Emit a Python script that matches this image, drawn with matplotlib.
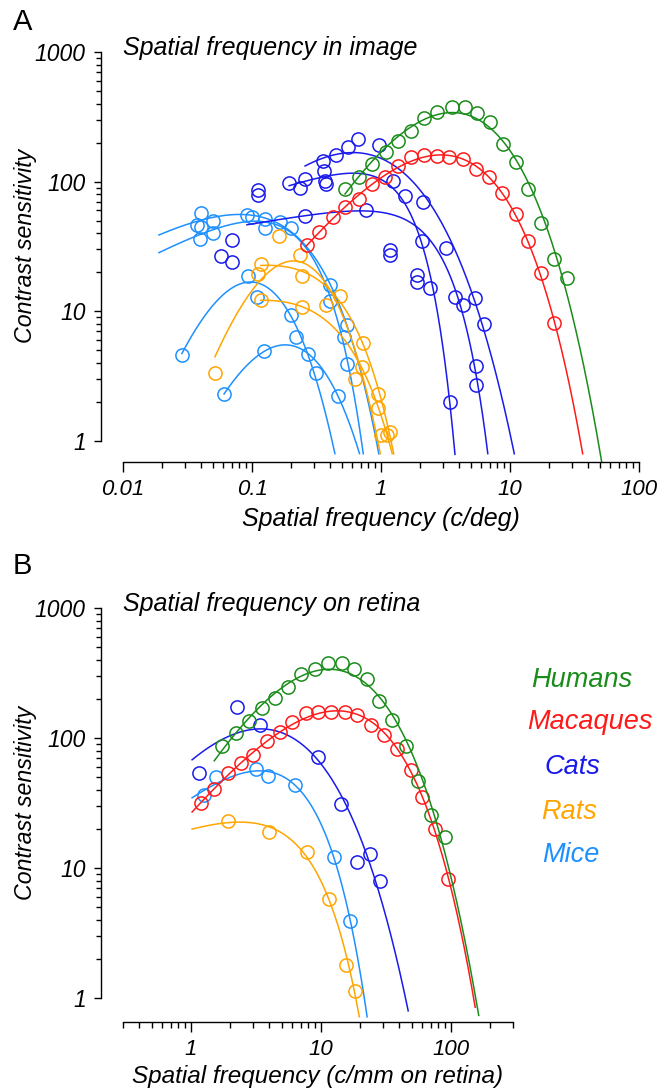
import matplotlib
matplotlib.use("Agg")
import matplotlib.pyplot as plt
import numpy as np

plt.rcParams["font.family"] = ["Liberation Sans", "DejaVu Sans"]

W, H = 661, 1090

GREEN = "#1a8c1a"
RED = "#ff1a1a"
BLUE = "#1a1aeb"
ORANGE = "#ffa500"
SKY = "#1e90ff"

# ---- panel A: spatial frequency in image (c/deg) ----
human_a_f = [0.526, 0.674, 0.851, 1.09, 1.36, 1.71, 2.15, 2.72, 3.55, 4.48, 5.55, 7.00, 8.83, 11.1, 13.8, 17.4, 21.9, 27.7]
human_a_s = [88, 108, 137, 169, 206, 245, 309, 344, 376, 376, 338, 288, 195, 142, 88, 48, 25.3, 18.1]

macaque_a_f = [0.267, 0.330, 0.424, 0.526, 0.674, 0.851, 1.07, 1.36, 1.71, 2.15, 2.72, 3.37, 4.32, 5.45, 6.87, 8.67, 11.1, 13.8, 17.4, 21.9]
macaque_a_s = [32.5, 40.9, 53.3, 63.7, 73.4, 95.9, 108, 132, 155, 160, 157, 155, 149, 125, 108, 81.7, 56.2, 34.8, 19.7, 8.1]

cat1_a_f = [0.111, 0.111, 0.194, 0.235, 0.258, 0.368, 0.375, 1.24, 1.53, 2.08, 2.40, 3.43]
cat1_a_s = [86.1, 78.8, 97.5, 89.3, 105, 101, 95.9, 101, 77.4, 34.8, 15.1, 2.0]
cat2_a_f = [0.258, 0.766, 3.75, 4.32, 5.45, 5.45]
cat2_a_s = [54.3, 60.4, 12.9, 11.2, 3.79, 2.70]
cat3_a_f = [0.355, 0.361, 0.448, 0.555, 0.664, 0.964, 2.12, 3.19, 5.35, 6.28]
cat3_a_s = [144, 121, 160, 185, 213, 192, 69.6, 30.8, 12.7, 7.98]
cat_extra_a_f = [0.070, 0.0575, 0.070, 1.17, 1.17, 1.90, 1.90]
cat_extra_a_s = [35.5, 26.7, 24.0, 29.7, 27.2, 19.1, 16.8]

rat1_a_f = [0.0516, 0.111, 0.162, 0.235, 0.375, 0.628, 1.0]
rat1_a_s = [3.35, 19.4, 38.1, 27.2, 11.2, 3.01, 1.11]
rat2_a_f = [0.117, 0.244, 0.481, 0.724, 0.948, 1.17]
rat2_a_s = [23.2, 18.7, 13.1, 5.70, 2.30, 1.17]
rat3_a_f = [0.117, 0.244, 0.711, 0.948, 1.12]
rat3_a_s = [12.2, 10.8, 3.72, 1.80, 1.11]

mouse1_a_f = [0.0375, 0.0403, 0.0499, 0.0914, 0.126, 0.165, 0.403, 0.545]
mouse1_a_s = [46.3, 57.3, 49.7, 55.3, 51.5, 48.8, 15.9, 7.84]
mouse2_a_f = [0.0395, 0.0403, 0.0499, 0.100, 0.126, 0.200, 0.403, 0.516, 0.545]
mouse2_a_s = [36.1, 44.7, 40.1, 53.3, 43.9, 43.9, 12.0, 6.34, 3.92]
mouse3_a_f = [0.0286, 0.093, 0.200, 0.219, 0.313]
mouse3_a_s = [4.60, 18.7, 9.36, 6.34, 3.35]
mouse4_a_f = [0.0607, 0.124, 0.272, 0.465]
mouse4_a_s = [2.30, 4.94, 4.69, 2.22]
mouse_extra_a_f = [0.109]
mouse_extra_a_s = [12.9]

# ---- panel B: spatial frequency on retina (c/mm) ----
human_b_f = [1.74, 2.23, 2.81, 3.54, 4.45, 5.60, 7.05, 9.04, 11.4, 14.6, 18.0, 22.7, 28.1, 35.3, 45.3, 56.0, 70.5, 90.4]
human_b_s = [86.8, 109, 135, 170, 203, 247, 311, 339, 378, 378, 339, 284, 193, 138, 87, 46.7, 25.6, 17.3]
macaque_b_f = [1.20, 1.51, 1.94, 2.44, 3.01, 3.87, 4.86, 6.02, 7.71, 9.53, 12.0, 15.4, 19.0, 24.4, 30.7, 38.6, 49.5, 60.1, 75.7, 95.3]
macaque_b_s = [31.6, 40.5, 53.8, 64.2, 74.0, 94.8, 111, 133, 156, 158, 158, 158, 150, 126, 105, 82, 56.7, 35.2, 19.9, 8.2]
cat_b_f = [1.16, 2.27, 3.41, 9.53, 14.3, 19.0, 23.9, 28.6]
cat_b_s = [53.8, 173, 126, 71.4, 31.1, 11.1, 12.8, 7.94]
rat_b_f = [1.94, 4.0, 7.85, 11.6, 15.7, 18.4]
rat_b_s = [23.0, 18.9, 13.3, 5.78, 1.79, 1.13]
mouse_b_f = [1.27, 1.57, 3.18, 3.93, 6.35, 12.6, 16.8]
mouse_b_s = [36.4, 50.1, 57.8, 51.0, 43.5, 12.2, 3.91]

legend_names = ["Humans", "Macaques", "Cats", "Rats", "Mice"]


def fit_curve(f, s, f0, floor):
    # log S = a + b log f - k f^p : linear least squares for a, b, k, grid over p
    f = np.asarray(f, float)
    y = np.log10(np.asarray(s, float))
    best = None
    for p in np.linspace(0.5, 5.0, 91):
        X = np.column_stack([np.ones_like(f), np.log10(f), -f ** p])
        coef, *_ = np.linalg.lstsq(X, y, rcond=None)
        if coef[2] <= 0:
            continue
        err = np.sum((X @ coef - y) ** 2)
        if best is None or err < best[0]:
            best = (err, p, coef)
    _, p, (a, b, k) = best
    ff = np.geomspace(f0, f0 * 1e4, 6000)
    ss = 10 ** (a + b * np.log10(ff) - k * ff ** p)
    # stop once the curve has fallen below the floor of the plot
    top = np.argmax(ss)
    below = np.nonzero(ss[top:] < floor)[0]
    end = top + below[0] + 1 if below.size else len(ff)
    return ff[:end], ss[:end]


def draw(ax, f, s, color, f0=None, floor=0.8):
    if f0 is not None:
        ff, ss = fit_curve(f, s, f0, floor)
        ax.plot(ff, ss, color=color, lw=1.1, clip_on=False)
    ax.plot(f, s, "o", ms=9.5, mfc="none", mec=color, mew=1.1, clip_on=False)


def px_axes(fig, x0, x1, y0, y1):
    return fig.add_axes([x0 / W, 1 - y1 / H, (x1 - x0) / W, (y1 - y0) / H])


def style_axes(ax, xlim, xbounds, xmajor, xminor, ylim):
    ax.set_xscale("log")
    ax.set_yscale("log")
    ax.set_xlim(*xlim)
    ax.set_ylim(*ylim)
    for side in ["top", "right"]:
        ax.spines[side].set_visible(False)
    ax.spines["left"].set_bounds(1, 1000)
    ax.spines["bottom"].set_bounds(*xbounds)
    for side in ["left", "bottom"]:
        ax.spines[side].set_linewidth(1.0)
    ax.set_xticks(xmajor, [f"{v:g}" for v in xmajor])
    ax.set_xticks(xminor, minor=True)
    ax.set_xticklabels([], minor=True)
    ymajor = [1, 10, 100, 1000]
    ax.set_yticks(ymajor, [str(v) for v in ymajor])
    ax.set_yticks([m * 10 ** e for e in range(3) for m in range(2, 10)], minor=True)
    ax.set_yticklabels([], minor=True)
    ax.tick_params(axis="x", which="major", length=7, width=1, labelsize=16, pad=5)
    ax.tick_params(axis="x", which="minor", length=4.5, width=1)
    ax.tick_params(axis="y", which="major", length=5, width=1, labelsize=16.5, pad=6)
    ax.tick_params(axis="y", which="minor", length=3.5, width=1)
    for lab in ax.get_xticklabels() + ax.get_yticklabels():
        lab.set_style("italic")
    ax.set_ylabel("Contrast sensitivity", fontsize=16.7, style="italic")


fig = plt.figure(figsize=(W / 100, H / 100), dpi=100)

# panel A
axA = px_axes(fig, 101, 639, 52, 462)
style_axes(axA, (10 ** (-2 - 22 / 129), 100), (0.01, 100),
           [0.01, 0.1, 1, 10, 100],
           [m * 10.0 ** e for e in range(-2, 2) for m in range(2, 10)],
           (10 ** (-21 / 129.7), 1000))
axA.set_xlabel("Spatial frequency (c/deg)", fontsize=18, style="italic")
axA.xaxis.set_label_coords((381 - 101) / 538, (462 - 507) / 410)
axA.yaxis.set_label_coords((37 - 101) / 538, (462 - 246) / 410)

draw(axA, mouse1_a_f, mouse1_a_s, SKY, 0.019)
draw(axA, mouse2_a_f, mouse2_a_s, SKY, 0.019)
draw(axA, mouse3_a_f, mouse3_a_s, SKY, 0.0286)
draw(axA, mouse4_a_f, mouse4_a_s, SKY, 0.0607)
draw(axA, mouse_extra_a_f, mouse_extra_a_s, SKY)
draw(axA, rat1_a_f, rat1_a_s, ORANGE, 0.0516)
draw(axA, rat2_a_f, rat2_a_s, ORANGE, 0.117)
draw(axA, rat3_a_f, rat3_a_s, ORANGE, 0.117)
draw(axA, cat1_a_f, cat1_a_s, BLUE, 0.194)
draw(axA, cat2_a_f, cat2_a_s, BLUE, 0.0914)
draw(axA, cat3_a_f, cat3_a_s, BLUE, 0.258)
draw(axA, cat_extra_a_f, cat_extra_a_s, BLUE)
draw(axA, macaque_a_f, macaque_a_s, RED, 0.262)
draw(axA, human_a_f, human_a_s, GREEN, 0.526, floor=0.7)

# panel B
axB = px_axes(fig, 101, 513, 608, 1022)
style_axes(axB, (10 ** (np.log10(0.3) - 22 / 130), 300), (0.3, 300),
           [1, 10, 100],
           [0.3, 0.4, 0.5, 0.6, 0.7, 0.8, 0.9] + [m * 10.0 ** e for e in range(0, 2) for m in range(2, 10)] + [200, 300],
           (10 ** (-24 / 130), 1000))
axB.set_xlabel("Spatial frequency (c/mm on retina)", fontsize=17.5, style="italic")
axB.xaxis.set_label_coords((318 - 101) / 412, (1022 - 1065) / 414)
axB.yaxis.set_label_coords((37 - 101) / 412, (1022 - 803) / 414)

draw(axB, mouse_b_f, mouse_b_s, SKY, 1.02, floor=0.72)
draw(axB, rat_b_f, rat_b_s, ORANGE, 1.02, floor=0.72)
draw(axB, cat_b_f, cat_b_s, BLUE, 1.02, floor=0.8)
draw(axB, macaque_b_f, macaque_b_s, RED, 1.02, floor=0.85)
draw(axB, human_b_f, human_b_s, GREEN, 1.51, floor=0.74)

# titles and panel letters
fig.text(13 / W, 1 - 22 / H, "A", fontsize=21, va="center", ha="left")
fig.text(13 / W, 1 - 566 / H, "B", fontsize=21, va="center", ha="left")
fig.text(123 / W, 1 - 48 / H, "Spatial frequency in image", fontsize=18, style="italic", va="center")
fig.text(123 / W, 1 - 604 / H, "Spatial frequency on retina", fontsize=18, style="italic", va="center")

legend_xy = [(531, 680), (527, 722), (545, 767), (541, 812), (542, 855)]
for name, col, (lx, ly) in zip(legend_names, [GREEN, RED, BLUE, ORANGE, SKY], legend_xy):
    fig.text(lx / W, 1 - ly / H, name, color=col, fontsize=19.5, style="italic", va="center")

fig.savefig("out.png", dpi=100)
